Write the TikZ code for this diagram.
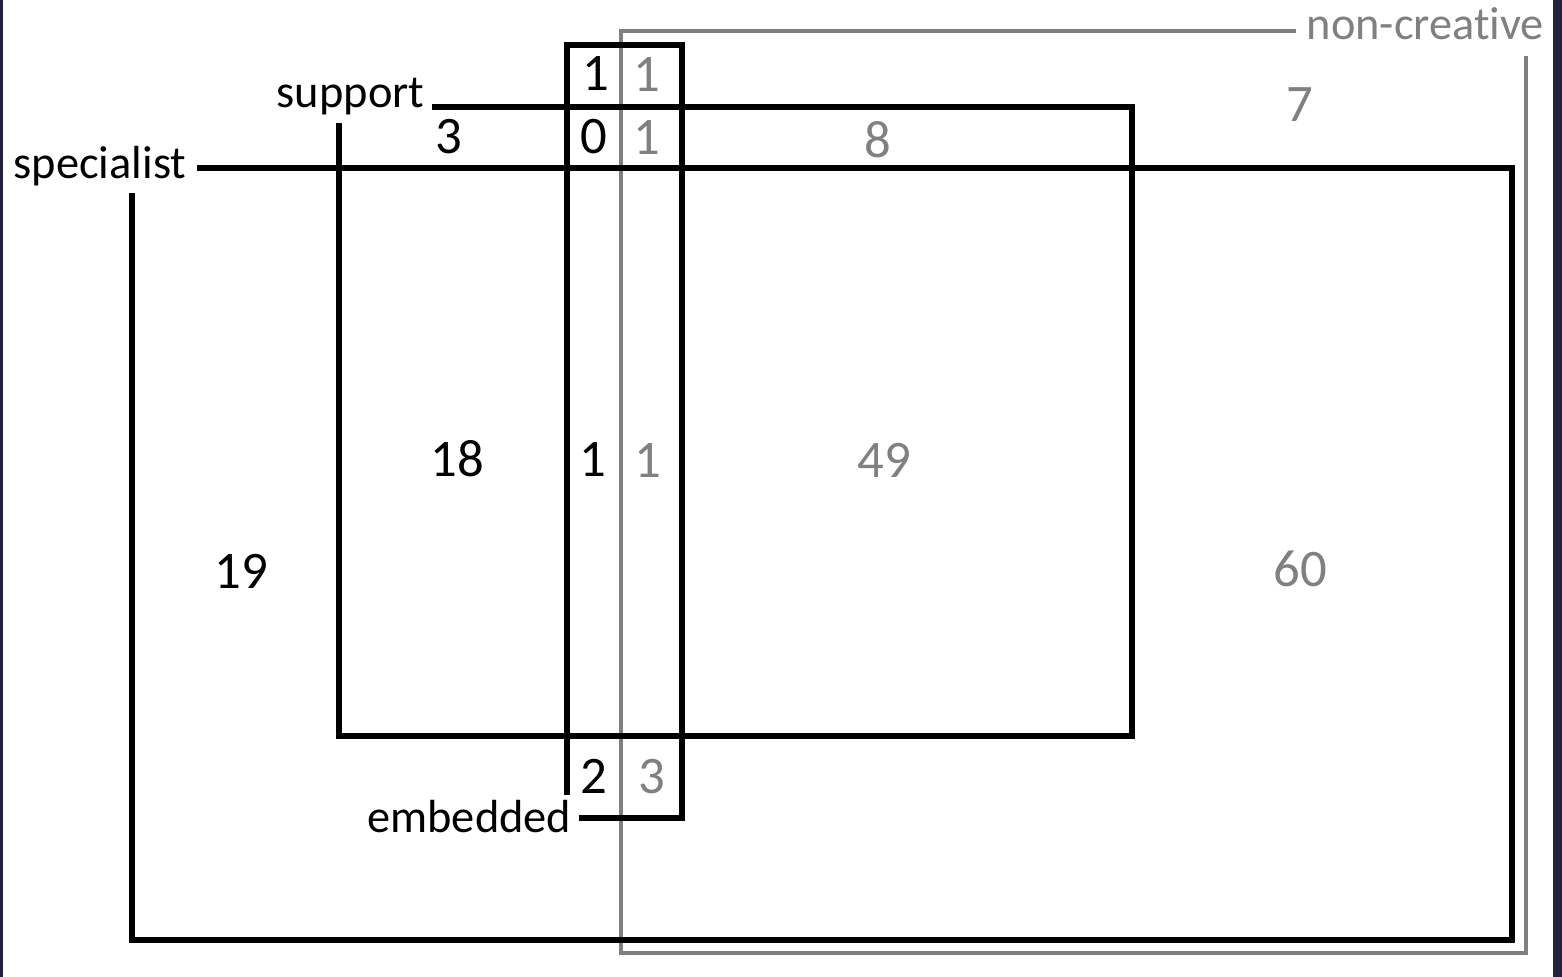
\documentclass[tikz,border=0pt]{standalone}
\usepackage{fontspec}
\setmainfont[Ligatures={NoCommon}]{Carlito}
\usetikzlibrary{positioning}
\definecolor{ncgray}{HTML}{808080}
\definecolor{edgeblue}{HTML}{23213F}

\begin{document}
\begin{tikzpicture}[x=0.01cm, y=-0.01cm,
  box/.style={line width=1.45pt, black},
  ncbox/.style={line width=1.2pt, ncgray},
  lbl/.style={font=\fontsize{13.2}{16}\selectfont, inner sep=0pt},
  num/.style={font=\fontsize{15}{18}\selectfont, inner sep=0pt}]
\useasboundingbox (0,0) rectangle (1562,977);

% Dark strips at the image edges
\fill[edgeblue] (0,0) rectangle (3,977);
\fill[edgeblue] (1553,0) rectangle (1562,977);

% Set labels
\node[lbl, anchor=base east] (specialist) at (187,179) {specialist};
\node[lbl, anchor=base east] (support) at (425,108) {support};
\node[lbl, anchor=base east] (embedded) at (572,833) {embedded};
\node[lbl, anchor=base west, ncgray] (noncreative) at (1306,40) {non-creative};

% Corners of the sets
\coordinate (spec-in) at (197,168);
\coordinate (spec-tr) at (1512,168);
\coordinate (spec-br) at (1512,940);
\coordinate (spec-bl) at (132,940);
\coordinate (spec-out) at (132,193);
\coordinate (supp-in) at (432,107);
\coordinate (supp-tr) at (1132,107);
\coordinate (supp-br) at (1132,736);
\coordinate (supp-bl) at (339,736);
\coordinate (supp-out) at (339,123);
\coordinate (emb-in) at (579,818);
\coordinate (emb-br) at (682,818);
\coordinate (emb-tr) at (682,45);
\coordinate (emb-tl) at (567,45);
\coordinate (emb-out) at (567,795);
\coordinate (nc-in) at (1296,31);
\coordinate (nc-tl) at (621,31);
\coordinate (nc-bl) at (621,953);
\coordinate (nc-br) at (1526,953);
\coordinate (nc-out) at (1526,56);

% non-creative (gray)
\draw[ncbox] (nc-in) -- (nc-tl) -- (nc-bl) -- (nc-br) -- (nc-out);

% specialist, support, embedded
\draw[box] (spec-in) -- (spec-tr) -- (spec-br) -- (spec-bl) -- (spec-out);
\draw[box] (supp-in) -- (supp-tr) -- (supp-br) -- (supp-bl) -- (supp-out);
\draw[box] (emb-in) -- (emb-br) -- (emb-tr) -- (emb-tl) -- (emb-out);

% Counts (black)
\node[num] (n-e) at (596,74) {1};
\node[num] (n-se) at (594,137) {0};
\node[num] (n-s) at (449,137) {3};
\node[num] (n-ssp) at (457,459) {18};
\node[num] (n-ssep) at (593,460) {1};
\node[num] (n-sp) at (241,571) {19};
\node[num] (n-ep) at (594,776) {2};

% Counts (gray, non-creative)
\node[num, ncgray] (c-e) at (647,75) {1};
\node[num, ncgray] (c-se) at (647,138) {1};
\node[num, ncgray] (c-s) at (878,140) {8};
\node[num, ncgray] (c-n) at (1300,105) {7};
\node[num, ncgray] (c-ssep) at (648,461) {1};
\node[num, ncgray] (c-ssp) at (884,460) {49};
\node[num, ncgray] (c-sp) at (1300,569) {60};
\node[num, ncgray] (c-ep) at (652,777) {3};
\end{tikzpicture}
\end{document}
